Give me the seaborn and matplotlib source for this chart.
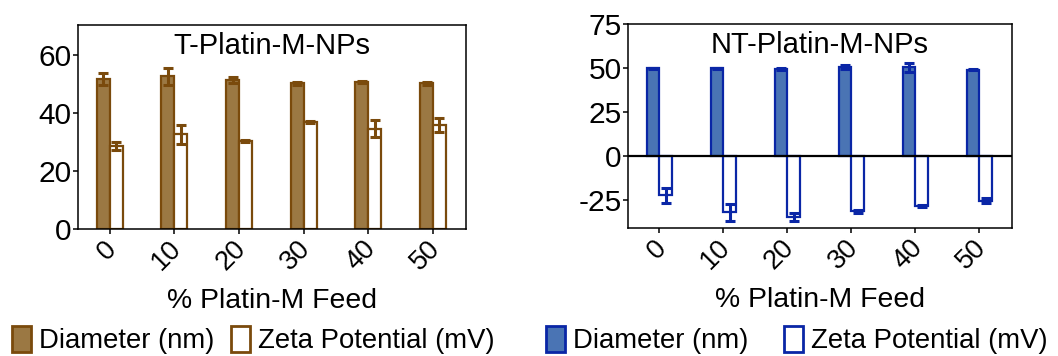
import matplotlib
matplotlib.use("Agg")
import matplotlib.pyplot as plt
from matplotlib.patches import Patch
import numpy as np
import pandas as pd
import seaborn as sns

# Feed ratios (% Platin-M)
feed = ["0", "10", "20", "30", "40", "50"]

# T-Platin-M-NPs
t_diameter = [51.8, 52.8, 51.4, 50.3, 50.8, 50.4]
t_diameter_err = [2.2, 3.0, 1.0, 0.6, 0.2, 0.5]
t_zeta = [28.7, 32.8, 30.3, 37.1, 34.7, 35.9]
t_zeta_err = [1.5, 3.3, 0.3, 0.3, 3.0, 2.5]

# NT-Platin-M-NPs
nt_diameter = [49.9, 49.9, 49.7, 50.6, 50.5, 49.1]
nt_diameter_err = [0.4, 0.4, 0.6, 1.0, 2.5, 0.2]
nt_zeta = [-22.3, -32.0, -34.6, -31.4, -28.3, -25.2]
nt_zeta_err = [4.4, 4.8, 2.5, 1.0, 0.6, 1.2]

measures = ["Diameter (nm)", "Zeta Potential (mV)"]

sns.set_style("ticks")
plt.rcParams["font.family"] = ["Liberation Sans", "DejaVu Sans"]
plt.rcParams["axes.linewidth"] = 1.1
plt.rcParams["text.color"] = "black"
plt.rcParams["axes.labelcolor"] = "black"
plt.rcParams["xtick.color"] = "black"
plt.rcParams["ytick.color"] = "black"
plt.rcParams["axes.edgecolor"] = "black"

W, H = 1058, 356
fig = plt.figure(figsize=(W / 100, H / 100), dpi=100)


def px_axes(x0, y_top, x1, y_bottom):
    return fig.add_axes([x0 / W, 1 - y_bottom / H, (x1 - x0) / W, (y_bottom - y_top) / H])


def panel(ax, diam, diam_err, zeta, zeta_err, fill, edge, title, ylim, yticks):
    df = pd.DataFrame({
        "feed": feed * 2,
        "measure": [measures[0]] * len(feed) + [measures[1]] * len(feed),
        "value": list(diam) + list(zeta),
    })
    sns.barplot(data=df, x="feed", y="value", hue="measure", order=feed,
                hue_order=measures, palette={measures[0]: fill, measures[1]: "white"},
                saturation=1, width=0.4, errorbar=None, edgecolor=edge, linewidth=1.6,
                legend=False, ax=ax)
    for container, vals, errs in zip(ax.containers, [diam, zeta], [diam_err, zeta_err]):
        xs = [b.get_x() + b.get_width() / 2 for b in container]
        ax.errorbar(xs, vals, yerr=errs, fmt="none", ecolor=edge, elinewidth=2.2,
                    capsize=3.6, capthick=2.2, zorder=5)
    ax.set_xlim(-0.49, 5.51)
    ax.set_ylim(*ylim)
    ax.set_yticks(yticks)
    ax.set_ylabel("")
    ax.set_xlabel("% Platin-M Feed", fontsize=20.4)
    ax.xaxis.set_label_coords(0.5, -0.29)
    ax.tick_params(axis="y", labelsize=21.5, length=3.6, width=1.1, pad=1)
    ax.tick_params(axis="x", labelsize=19.5, length=3.6, width=1.1, pad=8)
    for lab in ax.get_xticklabels():
        lab.set_rotation(45)
        lab.set_ha("right")
        lab.set_va("center")
        lab.set_rotation_mode("anchor")
        lab.set_x(lab.get_position()[0])
    for s in ax.spines.values():
        s.set_visible(True)
        s.set_linewidth(1.1)
        s.set_color("black")
    ax.text(0.5, 0.86, title, transform=ax.transAxes, ha="center", va="baseline",
            fontsize=21)


brown_fill = "#9b7843"
brown_edge = "#7a4a0c"
blue_fill = "#4a74b4"
blue_edge = "#0a26a6"

ax1 = px_axes(78, 25, 466, 229)
panel(ax1, t_diameter, t_diameter_err, t_zeta, t_zeta_err, brown_fill, brown_edge,
      "T-Platin-M-NPs", (0, 70.5), [0, 20, 40, 60])

ax2 = px_axes(628, 24, 1012, 228)
panel(ax2, nt_diameter, nt_diameter_err, nt_zeta, nt_zeta_err, blue_fill, blue_edge,
      "NT-Platin-M-NPs", (-40.8, 75), [-25, 0, 25, 50, 75])
ax2.axhline(0, color="black", lw=1.6, zorder=6)
ax2.set_yticklabels(["-25", "0", "25", "50", "75"])

# nudge rotated category labels slightly right so their ends sit under the ticks
import matplotlib.transforms as mtransforms
shift = mtransforms.ScaledTranslation(3 / 100, 0, fig.dpi_scale_trans)
for ax in (ax1, ax2):
    for lab in ax.get_xticklabels():
        lab.set_transform(lab.get_transform() + shift)


def legend_for(ax, fill, edge, x0, colspace):
    handles = [Patch(facecolor=fill, edgecolor=edge, lw=2),
               Patch(facecolor="white", edgecolor=edge, lw=2)]
    leg = ax.legend(handles, measures, loc="lower left", bbox_to_anchor=(x0 / W, 1.5 / H),
                    bbox_transform=fig.transFigure, ncol=2, frameon=False, fontsize=19.8,
                    handlelength=0.68, handleheight=1.05, handletextpad=0.3,
                    columnspacing=colspace, borderpad=0, borderaxespad=0)
    return leg


legend_for(ax1, brown_fill, brown_edge, 12, 0.6)
legend_for(ax2, blue_fill, blue_edge, 546, 1.3)

fig.savefig("out.png", dpi=100)
